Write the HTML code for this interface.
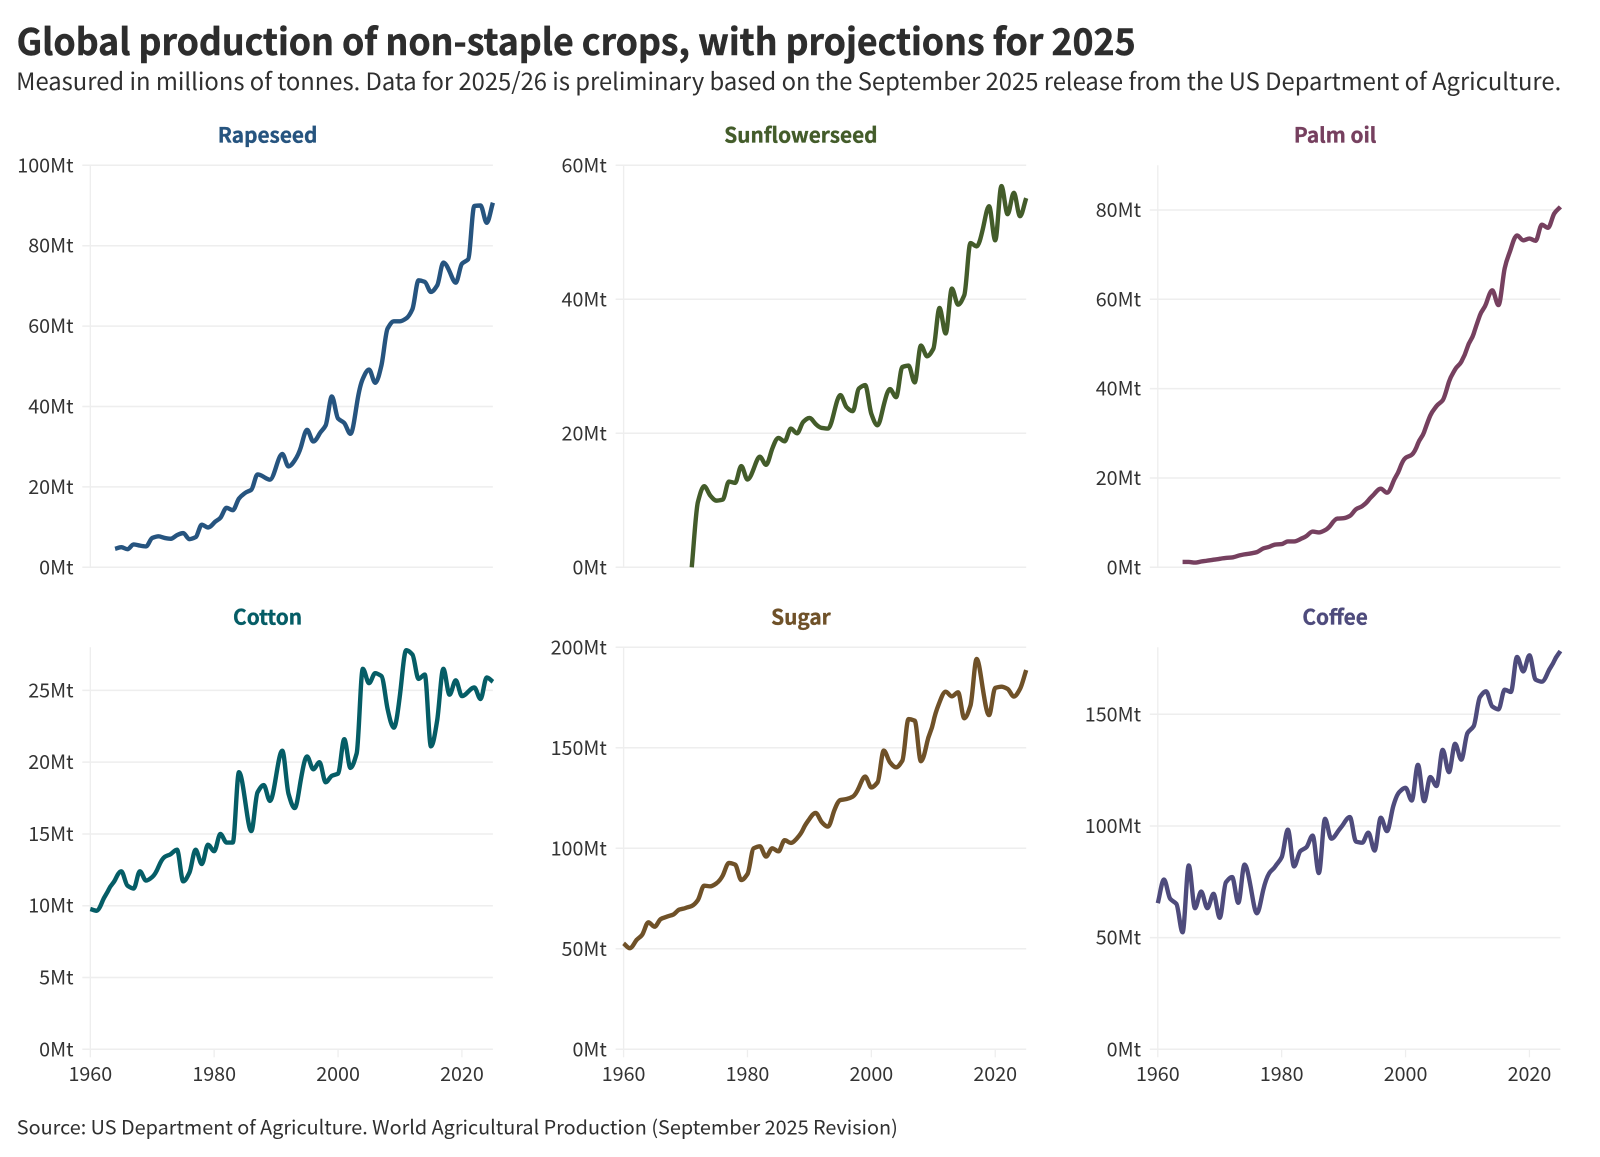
<!DOCTYPE html>
<html lang="en">
<head>
<meta charset="utf-8">
<title>Global production of non-staple crops</title>
<style>
html,body{margin:0;padding:0;background:#fff;}
svg{display:block;}
text{font-family:"Noto Sans CJK JP","Liberation Sans",sans-serif;}
</style>
</head>
<body>
<svg id="chart" xmlns="http://www.w3.org/2000/svg" width="1600" height="1157" viewBox="0 0 1600 1157">
  <rect x="0" y="0" width="1600" height="1157" fill="#ffffff"/>
  <text x="16.6" y="55" font-size="36.5" font-weight="700" fill="#2d2d2d" stroke="#2d2d2d" stroke-width="0.5" textLength="1119" lengthAdjust="spacingAndGlyphs">Global production of non-staple crops, with projections for 2025</text>
  <text x="16.2" y="90" font-size="23.6" fill="#2f2f2f" textLength="1545" lengthAdjust="spacingAndGlyphs">Measured in millions of tonnes. Data for 2025/26 is preliminary based on the September 2025 release from the US Department of Agriculture.</text>
  <text x="16.8" y="1134.5" font-size="19.5" fill="#2f2f2f" textLength="881" lengthAdjust="spacingAndGlyphs">Source: US Department of Agriculture. World Agricultural Production (September 2025 Revision)</text>
  <g id="panels"></g>
</svg>
<script>
const xTickYears = [1960, 1980, 2000, 2020];

const rapeseedFirstYear = 1964;
const rapeseedValues = [4.6,5.0,4.5,5.7,5.4,5.2,7.3,7.7,7.3,7.1,8.0,8.5,7.0,7.5,10.6,9.9,11.1,12.3,14.8,14.2,17.1,18.5,19.3,23.1,22.5,21.8,25,28.2,25.1,26.6,29.9,34.2,31.3,33.2,35.3,42.5,37,35.9,33.2,40.3,46.9,49.2,45.9,50.2,59.4,61.2,61.2,61.9,64.2,71.4,71,68.5,70.1,75.8,73.6,70.8,75.5,76.6,89.9,90,85.7,90.7];
const rapeseedTicks = [0,20,40,60,80,100];

const sunflowerFirstYear = 1971;
const sunflowerValues = [0,9.75,12.1,10.7,9.95,10.1,12.8,12.6,15.1,13.1,14.7,16.5,15.3,17.7,19.3,18.8,20.7,20,21.7,22.3,21.4,20.8,20.7,23.2,25.7,23.9,23.3,26.7,27.2,22.9,21.2,24.2,26.6,25.4,29.9,30.1,27.6,33.1,31.5,32.6,38.7,34.9,41.6,39.2,40.6,48.4,47.9,50.5,53.9,48.8,56.9,52.7,55.9,52.4,55.1];
const sunflowerTicks = [0,20,40,60];

const palmFirstYear = 1964;
const palmValues = [1.2,1.2,1.05,1.3,1.5,1.7,1.9,2.1,2.2,2.6,2.9,3.1,3.4,4.2,4.6,5.1,5.2,5.8,5.8,6.3,7,8,7.8,8.3,9.6,10.9,11,11.5,13,13.7,15,16.5,17.6,16.7,19.1,21.9,24.5,25.2,27.7,30.3,34,36.1,37.4,41.5,44.3,46,49.3,52.3,56.4,59,62,58.7,66.9,71.3,74.3,73.2,73.6,73.1,76.7,76,79.2,80.7];
const palmTicks = [0,20,40,60,80];

const cottonFirstYear = 1960;
const cottonValues = [9.77,9.65,10.35,11.15,11.8,12.4,11.4,11.2,12.4,11.75,12,12.7,13.4,13.6,13.9,11.7,12.3,13.9,12.9,14.25,13.8,15,14.4,14.4,19.3,17.3,15.2,17.9,18.4,17.3,19.05,20.8,17.8,16.8,18.8,20.4,19.5,20,18.6,19.05,19.2,21.6,19.6,20.6,26.5,25.5,26.2,26,23.7,22.4,24.7,27.8,27.5,25.8,26.1,21.1,22.9,26.5,24.7,25.7,24.6,24.9,25.2,24.4,25.9,25.6];
const cottonTicks = [0,5,10,15,20,25];

const sugarFirstYear = 1960;
const sugarValues = [52.7,50.3,54,57,63.2,61,64.8,66,67,69.5,70.3,71.3,74.3,81.4,81.1,82.6,86.4,92.7,91.9,84.2,87.2,100,101,95.9,100,98.5,104,102.7,105,109.6,114.6,117.6,113,110.8,118.7,124,124.5,125.7,130.3,135.7,130.3,132.8,148.6,142.8,140.3,143.6,164.3,163.5,143.3,152.7,162.7,172.6,177.9,175.6,177.6,164.7,171,194.2,179.3,166.3,179.8,180.4,179.3,175.5,179.3,188.7];
const sugarTicks = [0,50,100,150,200];

const coffeeFirstYear = 1960;
const coffeeValues = [65.4,76,67.4,65.1,52.4,82.3,63.2,70.6,63.2,69.6,58.9,74.8,77.1,65.6,82.7,72.6,60.9,71.1,78.9,82,86,98.3,81.9,88.7,90.5,95.7,78.9,103.2,94.3,97.2,101,104,93,92.5,97,89,103.7,97.7,108.7,115.2,117.1,111.4,127.4,111.1,121.9,117.9,134.1,124.1,136.8,129.7,141.6,144.7,157.7,160.3,153.5,152.2,161,160,175.7,169.2,176.4,165.5,164.6,168.9,173.9,178.3];
const coffeeTicks = [0,50,100,150];

const panelLayouts = [
  {key:'rapeseed', title:'Rapeseed', color:'#26547f', first:rapeseedFirstYear, values:rapeseedValues, ticks:rapeseedTicks, yMax:100, left:90.3, top:165.3, xAxis:false},
  {key:'sunflowerseed', title:'Sunflowerseed', color:'#435c2a', first:sunflowerFirstYear, values:sunflowerValues, ticks:sunflowerTicks, yMax:60, left:623.6, top:165.3, xAxis:false},
  {key:'palm-oil', title:'Palm oil', color:'#76405f', first:palmFirstYear, values:palmValues, ticks:palmTicks, yMax:90, left:1157.8, top:165.3, xAxis:false},
  {key:'cotton', title:'Cotton', color:'#055d66', first:cottonFirstYear, values:cottonValues, ticks:cottonTicks, yMax:28, left:90.3, top:647.3, xAxis:true},
  {key:'sugar', title:'Sugar', color:'#6f5128', first:sugarFirstYear, values:sugarValues, ticks:sugarTicks, yMax:200, left:623.6, top:647.3, xAxis:true},
  {key:'coffee', title:'Coffee', color:'#4e4b7c', first:coffeeFirstYear, values:coffeeValues, ticks:coffeeTicks, yMax:180, left:1157.8, top:647.3, xAxis:true}
];

const SVGNS = 'http://www.w3.org/2000/svg';
const plotW = 402.6;
const plotH = 402;
const gridColor = '#eeeeee';
const tickText = '#333333';

function monotonePath(pts) {
  const n = pts.length;
  const slopes = [];
  for (let i = 0; i < n - 1; i++) {
    slopes.push((pts[i + 1][1] - pts[i][1]) / (pts[i + 1][0] - pts[i][0]));
  }
  const tangents = [slopes[0]];
  for (let i = 1; i < n - 1; i++) {
    const a = slopes[i - 1];
    const b = slopes[i];
    if (a * b <= 0) {
      tangents.push(0);
    } else {
      const s = Math.sign(a);
      tangents.push(s * Math.min(Math.abs(a), Math.abs(b), 0.5 * Math.abs(a + b)) * 2 * 0.75);
    }
  }
  tangents.push(slopes[n - 2]);
  let d = 'M' + pts[0][0].toFixed(2) + ',' + pts[0][1].toFixed(2);
  for (let i = 0; i < n - 1; i++) {
    const h = (pts[i + 1][0] - pts[i][0]) / 3;
    d += 'C' + (pts[i][0] + h).toFixed(2) + ',' + (pts[i][1] + tangents[i] * h).toFixed(2) +
      ' ' + (pts[i + 1][0] - h).toFixed(2) + ',' + (pts[i + 1][1] - tangents[i + 1] * h).toFixed(2) +
      ' ' + pts[i + 1][0].toFixed(2) + ',' + pts[i + 1][1].toFixed(2);
  }
  return d;
}

function drawPanel(p, root) {
  const xScale = function (year) { return p.left + (year - 1960) / 65 * plotW; };
  const yScale = function (v) { return p.top + plotH - v / p.yMax * plotH; };

  const g = document.createElementNS(SVGNS, 'g');
  
  
  root.appendChild(g);

  const title = document.createElementNS(SVGNS, 'text');
  
  
  title.setAttribute('x', p.left + plotW / 2 - 24);
  title.setAttribute('y', p.top - 22.6);
  title.setAttribute('text-anchor', 'middle');
  title.setAttribute('font-size', '20.8');
  title.setAttribute('font-weight', '700');
  title.setAttribute('fill', p.color);
  title.setAttribute('stroke', p.color);
  title.setAttribute('stroke-width', '0.35');
  title.textContent = p.title;
  g.appendChild(title);

  const axis = document.createElementNS(SVGNS, 'line');
  
  
  axis.setAttribute('x1', p.left);
  axis.setAttribute('x2', p.left);
  axis.setAttribute('y1', p.top);
  axis.setAttribute('y2', p.top + plotH);
  axis.setAttribute('stroke', gridColor);
  axis.setAttribute('stroke-width', '1.3');
  g.appendChild(axis);

  p.ticks.forEach(function (t) {
    const y = yScale(t);
    const line = document.createElementNS(SVGNS, 'line');
    
    
    line.setAttribute('x1', p.left - 8);
    line.setAttribute('x2', p.left + plotW);
    line.setAttribute('y1', y);
    line.setAttribute('y2', y);
    line.setAttribute('stroke', gridColor);
    line.setAttribute('stroke-width', '1.5');
    g.appendChild(line);

    const label = document.createElementNS(SVGNS, 'text');
    
    
    label.setAttribute('x', p.left - 16.8);
    label.setAttribute('y', y + 7);
    label.setAttribute('text-anchor', 'end');
    label.setAttribute('font-size', '19.7');
    label.setAttribute('fill', tickText);
    label.textContent = t + 'Mt';
    g.appendChild(label);
  });

  if (p.xAxis) {
    xTickYears.forEach(function (yr) {
      const x = xScale(yr);
      const tick = document.createElementNS(SVGNS, 'line');
      
      
      tick.setAttribute('x1', x);
      tick.setAttribute('x2', x);
      tick.setAttribute('y1', p.top + plotH);
      tick.setAttribute('y2', p.top + plotH + 8);
      tick.setAttribute('stroke', gridColor);
      tick.setAttribute('stroke-width', '1.3');
      g.appendChild(tick);

      const label = document.createElementNS(SVGNS, 'text');
      
      
      label.setAttribute('x', x);
      label.setAttribute('y', p.top + plotH + 31.5);
      label.setAttribute('text-anchor', 'middle');
      label.setAttribute('font-size', '19.7');
      label.setAttribute('fill', tickText);
      label.textContent = yr;
      g.appendChild(label);
    });
  }

  const pts = p.values.map(function (v, i) { return [xScale(p.first + i), yScale(v)]; });
  const path = document.createElementNS(SVGNS, 'path');
  
  
  path.setAttribute('d', monotonePath(pts));
  path.setAttribute('fill', 'none');
  path.setAttribute('stroke', p.color);
  path.setAttribute('stroke-width', '4.4');
  path.setAttribute('stroke-linejoin', 'round');
  g.appendChild(path);
}

const panelsRoot = document.getElementById('panels');
panelLayouts.forEach(function (p) { drawPanel(p, panelsRoot); });
</script>
</body>
</html>
